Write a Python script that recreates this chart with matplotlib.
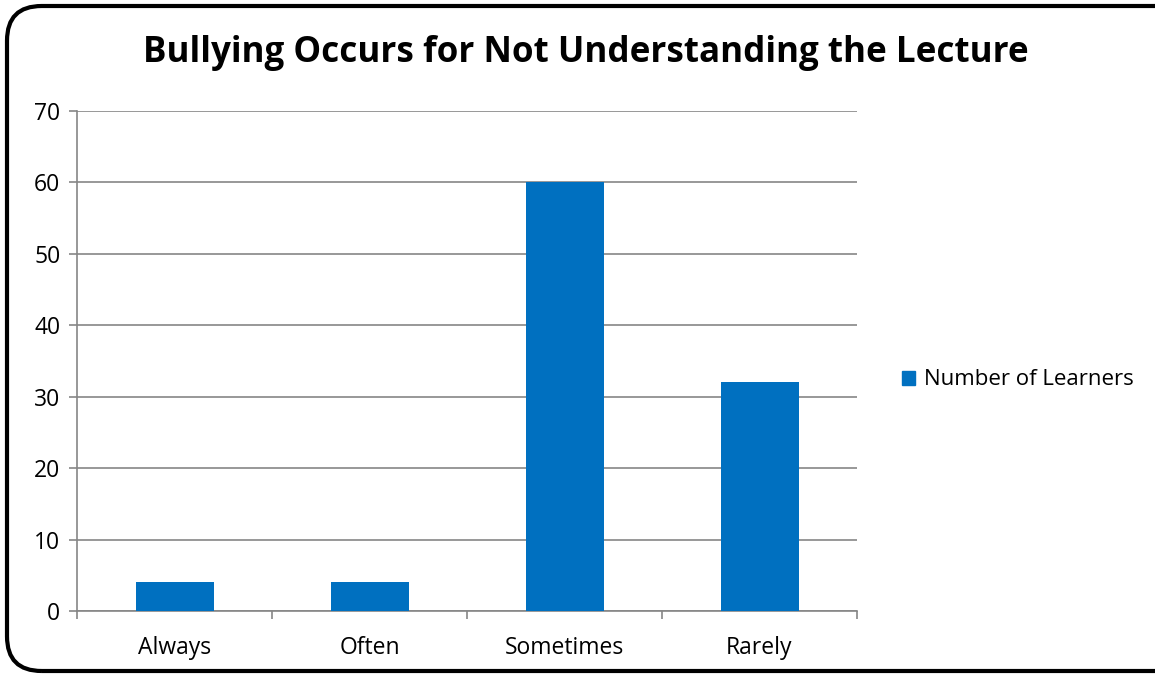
import matplotlib.pyplot as plt
from matplotlib.patches import FancyBboxPatch, Patch

categories = ['Always', 'Often', 'Sometimes', 'Rarely']
learners = [4, 4, 60, 32]
series_name = 'Number of Learners'
title = 'Bullying Occurs for Not Understanding the Lecture'

plt.rcParams['font.family'] = ['Open Sans', 'DejaVu Sans']
grey = '#868686'
fs = 16.5

fig = plt.figure(figsize=(11.55, 6.77), dpi=100)
ax = fig.add_axes([77 / 1155, 1 - 611 / 677, 780 / 1155, 500 / 677])

x = range(len(categories))
ax.bar(x, learners, width=0.4, color='#0070C0', zorder=3, label=series_name)

ax.set_xlim(-0.5, len(categories) - 0.5)
ax.set_ylim(0, 70)
ax.set_yticks(range(0, 71, 10))
ax.set_xticks(list(x))
ax.set_xticklabels(categories, fontsize=fs)
ax.tick_params(axis='y', labelsize=fs, length=6, color=grey, width=1.2, pad=6)
ax.tick_params(axis='x', length=0, pad=18)
# tick marks between categories
ax.set_xticks([i - 0.5 for i in range(len(categories) + 1)], minor=True)
ax.tick_params(axis='x', which='minor', length=6, color=grey, width=1.2)

ax.grid(axis='y', color=grey, linewidth=1.2, zorder=0)
for s in ['top', 'right']:
    ax.spines[s].set_visible(False)
for s in ['left', 'bottom']:
    ax.spines[s].set_color(grey)
    ax.spines[s].set_linewidth(1.2)

fig.text(0.507, 1 - 53 / 677, title, ha='center', va='center',
         fontsize=25.2, fontweight='bold')

leg = fig.legend(handles=[Patch(color='#0070C0', label=series_name)],
                 loc='center left', bbox_to_anchor=(882 / 1155, 1 - 380 / 677),
                 frameon=False, fontsize=16, handlelength=0.6, handleheight=0.6,
                 handletextpad=0.4)

border = FancyBboxPatch((7 / 1155, 6 / 677), 1.05, 1 - 12 / 677,
                        boxstyle='round,pad=0,rounding_size=0.03',
                        transform=fig.transFigure, fill=False,
                        edgecolor='black', linewidth=3, clip_on=False,
                        mutation_aspect=1155 / 677)
fig.patches.append(border)

fig.savefig('out.png', dpi=100)
